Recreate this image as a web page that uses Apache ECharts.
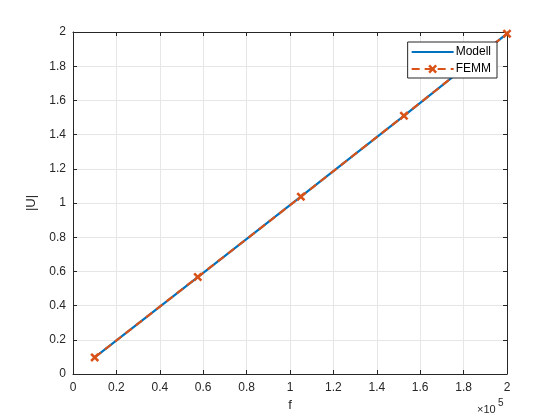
<!DOCTYPE html>
<html><head><meta charset="utf-8">
<script src="https://cdn.jsdelivr.net/npm/echarts@6/dist/echarts.min.js"></script>
<style>html,body{margin:0;padding:0;background:#fff}#c{width:560px;height:420px}</style>
</head><body><div id="c"></div>
<script>
const freq = [10000, 57500, 105000, 152500, 200000];
const modellU = [0.097, 0.567, 1.037, 1.510, 1.990];
const femmU = [0.097, 0.567, 1.037, 1.510, 1.990];
const xTicks = [0, 0.2, 0.4, 0.6, 0.8, 1, 1.2, 1.4, 1.6, 1.8, 2];
const yTicks = [0, 0.2, 0.4, 0.6, 0.8, 1, 1.2, 1.4, 1.6, 1.8, 2];

const font = 'Liberation Sans, Arial, sans-serif';
const axisCol = '#262626';
const xMark = 'path://M0,2L2,0L5,3L8,0L10,2L7,5L10,8L8,10L5,7L2,10L0,8L3,5Z';

const chart = echarts.init(document.getElementById('c'), null, {renderer: 'canvas'});
const baseX = {
  type: 'value', min: 0, max: 200000, interval: 20000,
  axisLine: {show: true, onZero: false, lineStyle: {color: axisCol, width: 1}},
  axisTick: {show: true, inside: true, length: 4, lineStyle: {color: axisCol}},
};
const baseY = {
  type: 'value', min: 0, max: 2, interval: 0.2,
  axisLine: {show: true, onZero: false, lineStyle: {color: axisCol, width: 1}},
  axisTick: {show: true, inside: true, length: 4, lineStyle: {color: axisCol}},
};
chart.setOption({
  animation: false,
  backgroundColor: '#fff',
  grid: {left: 73, right: 53, top: 32, bottom: 46, containLabel: false},
  xAxis: [
    Object.assign({}, baseX, {
      position: 'bottom',
      name: 'f', nameLocation: 'middle', nameGap: 25,
      nameTextStyle: {color: axisCol, fontFamily: font, fontSize: 13},
      axisLabel: {color: axisCol, fontFamily: font, fontSize: 12, margin: 8,
        formatter: v => String(xTicks[Math.round(v / 20000)])},
      splitLine: {show: true, lineStyle: {color: '#e6e6e6', width: 1}}
    }),
    Object.assign({}, baseX, {position: 'top', axisLabel: {show: false}, splitLine: {show: false}})
  ],
  yAxis: [
    Object.assign({}, baseY, {
      position: 'left',
      name: '|U|', nameLocation: 'middle', nameGap: 25,
      nameTextStyle: {color: axisCol, fontFamily: font, fontSize: 13},
      axisLabel: {color: axisCol, fontFamily: font, fontSize: 12, margin: 7,
        formatter: v => String(yTicks[Math.round(v / 0.2)])},
      splitLine: {show: true, lineStyle: {color: '#e6e6e6', width: 1}}
    }),
    Object.assign({}, baseY, {position: 'right', axisLabel: {show: false}, splitLine: {show: false}})
  ],
  legend: {
    right: 63, top: 42, orient: 'vertical',
    backgroundColor: '#fff', borderColor: axisCol, borderWidth: 1, borderRadius: 0,
    padding: [4, 6, 3, 3], itemGap: 5, itemWidth: 42, itemHeight: 11,
    textStyle: {color: '#000', fontFamily: font, fontSize: 12, padding: [0, 0, 0, -3]},
    data: [
      {name: 'Modell', itemStyle: {color: 'rgba(0,0,0,0)', borderWidth: 0, opacity: 0}},
      {name: 'FEMM'}
    ]
  },
  graphic: [{
    type: 'text', left: 477, top: 404,
    style: {text: '×10', fill: axisCol, font: '11px ' + font}
  }, {
    type: 'text', left: 498, top: 398,
    style: {text: '5', fill: axisCol, font: '10px ' + font}
  }],
  series: [{
    name: 'Modell', type: 'line', xAxisIndex: 0, yAxisIndex: 0,
    data: freq.map((f, i) => [f, modellU[i]]),
    showSymbol: false, symbol: 'none',
    lineStyle: {color: '#0072BD', width: 2.2},
    itemStyle: {color: '#0072BD'}
  }, {
    name: 'FEMM', type: 'line', xAxisIndex: 0, yAxisIndex: 0,
    data: freq.map((f, i) => [f, femmU[i]]),
    symbol: xMark, symbolSize: 9, showSymbol: true,
    lineStyle: {color: '#D95319', width: 2.2, type: [8, 5]},
    itemStyle: {color: '#D95319'}
  }]
});
</script></body></html>
